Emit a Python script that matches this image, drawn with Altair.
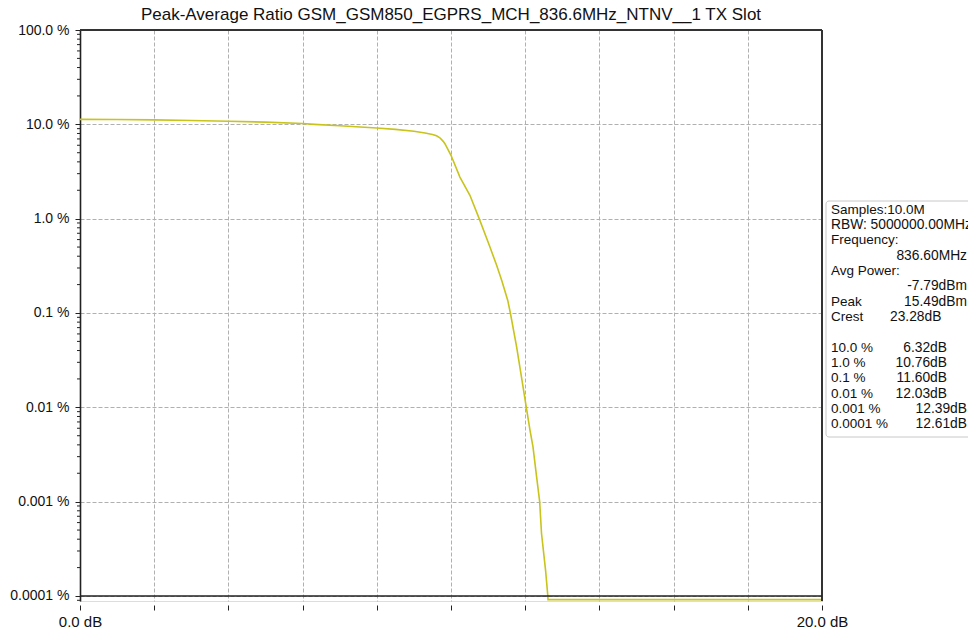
import altair as alt
import pandas as pd

# ---------------- data ----------------
title_text = "Peak-Average Ratio GSM_GSM850_EGPRS_MCH_836.6MHz_NTNV__1 TX Slot"

ccdf_db = [0.0, 1.0, 2.0, 3.0, 4.0, 5.0, 6.0, 6.32, 7.0, 8.0, 8.5, 9.0, 9.3, 9.5,
           9.61, 9.70, 9.79, 9.84, 10.0, 10.24, 10.51, 10.76, 11.05, 11.23, 11.37,
           11.53, 11.60, 11.77, 11.90, 12.03, 12.13, 12.21, 12.31, 12.39, 12.44,
           12.55, 12.61, 12.615, 20.0]
ccdf_pct = [11.3, 11.25, 11.15, 11.0, 10.8, 10.55, 10.2, 10.0, 9.65, 9.15, 8.85, 8.45,
            8.1, 7.8, 7.55, 7.2, 6.6, 6.2, 4.7, 2.76, 1.77, 1.0, 0.5, 0.32, 0.22,
            0.136, 0.1, 0.0435, 0.0209, 0.01, 0.0057, 0.0038, 0.0018, 0.001, 0.00046,
            0.000186, 0.0001, 0.0000915, 0.0000915]

x_tick_values = [0, 2, 4, 6, 8, 10, 12, 14, 16, 18, 20]
x_tick_labels = {0: "0.0 dB", 20: "20.0 dB"}
y_tick_values = [100, 10, 1, 0.1, 0.01, 0.001, 0.0001]
y_tick_labels = ["100.0 %", "10.0 %", "1.0 %", "0.1 %", "0.01 %", "0.001 %", "0.0001 %"]
y_domain = [0.0000885, 100]
y_minor_values = [k * 10.0 ** e for e in range(-5, 2) for k in range(2, 10)
                  if y_domain[0] <= k * 10.0 ** e <= y_domain[1]]

info_labels = ["Samples:10.0M", "RBW: 5000000.00MHz", "Frequency:", "", "Avg Power:", "",
               "Peak", "Crest", "", "10.0 %", "1.0 %", "0.1 %", "0.01 %", "0.001 %", "0.0001 %"]
info_values = ["", "", "", "836.60MHz", "", "-7.79dBm", "15.49dBm", "23.28dB", "",
               "6.32dB", "10.76dB", "11.60dB", "12.03dB", "12.39dB", "12.61dB"]

# ---------------- layout / style ----------------
W, H = 742, 571
FONT = "Liberation Sans"
CURVE = "#c8c41c"
GRID = "#b0b0b0"

stop_far = {3, 5, 6, 13, 14}     # right aligned at far stop
stop_mid = {9, 10, 11, 12}       # right aligned at middle stop
LINE0_Y = 179.5
LINE_H = 15.35

curve_df = pd.DataFrame({"db": ccdf_db, "pct": ccdf_pct})
minor_df = pd.DataFrame({"v": y_minor_values})
one = pd.DataFrame({"a": [0]})

x_scale = alt.Scale(domain=[0, 20], nice=False, zero=False)
y_scale = alt.Scale(type="log", domain=y_domain, nice=False)

x_expr = " : ".join(f"datum.value == {v} ? '{t}'" for v, t in x_tick_labels.items()) + " : ''"
y_expr = " : ".join(f"datum.value > {v * 0.5} ? '{t}'" for v, t in zip(y_tick_values, y_tick_labels)) + " : ''"

line = alt.Chart(curve_df).mark_line(color=CURVE, strokeWidth=1.6, clip=True).encode(
    x=alt.X("db:Q", scale=x_scale, title=None,
            axis=alt.Axis(values=x_tick_values, labelExpr=x_expr, offset=4, tickSize=5,
                          tickColor="#222", tickWidth=1, domain=False, grid=True,
                          gridColor=GRID, gridDash=[4, 2], gridWidth=1,
                          labelFontSize=15, labelFont=FONT, labelColor="#111",
                          labelPadding=4, labelFlush=False, labelOverlap=False)),
    y=alt.Y("pct:Q", scale=y_scale, title=None,
            axis=alt.Axis(values=y_tick_values, labelExpr=y_expr, tickSize=5,
                          tickColor="#222", tickWidth=1, domain=True, domainColor="#222",
                          domainWidth=1.6, grid=True, gridColor=GRID, gridDash=[4, 2],
                          gridWidth=1, labelFontSize=14, labelFont=FONT, labelColor="#111",
                          labelPadding=6, labelFlush=False, labelOverlap=False)),
)

minor = alt.Chart(minor_df).mark_rule(color="#222", strokeWidth=1).encode(
    y=alt.Y("v:Q", scale=y_scale, title=None), x=alt.value(-3), x2=alt.value(0))

top_border = alt.Chart(one).mark_rule(color="#333", strokeWidth=2).encode(
    x=alt.value(0), x2=alt.value(W), y=alt.value(0))
right_border = alt.Chart(one).mark_rule(color="#333", strokeWidth=2).encode(
    x=alt.value(W), y=alt.value(0), y2=alt.value(H))
floor_rule = alt.Chart(one).mark_rule(color="#222", strokeWidth=1.6).encode(
    x=alt.value(0), x2=alt.value(W), y=alt.Y(datum=y_tick_values[-1], scale=y_scale, title=None))

box = alt.Chart(one).mark_rect(fill="white", stroke="#c8c8c8", strokeWidth=1, cornerRadius=3).encode(
    x=alt.value(746), x2=alt.value(920), y=alt.value(171), y2=alt.value(407))

lab_kw = dict(fontSize=13.5, font=FONT, color="#111", baseline="middle")
val_kw = dict(fontSize=13.8, font=FONT, color="#111", baseline="middle")
text_layers = []
for i, (lab, val) in enumerate(zip(info_labels, info_values)):
    ypx = LINE0_Y + i * LINE_H
    if lab:
        kw = val_kw if i == 1 else lab_kw
        text_layers.append(alt.Chart(one).mark_text(align="left", **kw).encode(
            x=alt.value(751), y=alt.value(ypx), text=alt.value(lab)))
    if val:
        if i in stop_far:
            xpx, al = 887, "right"
        elif i in stop_mid:
            xpx, al = 867, "right"
        else:
            xpx, al = 810, "left"
        text_layers.append(alt.Chart(one).mark_text(align=al, **val_kw).encode(
            x=alt.value(xpx), y=alt.value(ypx), text=alt.value(val)))

chart = alt.layer(line, minor, top_border, right_border, floor_rule,
                  box, *text_layers).properties(
    width=W, height=H,
    padding={"left": 72, "top": 22, "right": 146, "bottom": 27},
    autosize=alt.AutoSizeParams(type="none"),
    title=alt.TitleParams(title_text, fontSize=17, font=FONT, fontWeight="normal",
                          color="#111", anchor="middle", frame="group", offset=-1),
).configure_view(stroke=None).configure(background="white")

chart.save("out.html", embed_options={"renderer": "svg", "actions": False})
